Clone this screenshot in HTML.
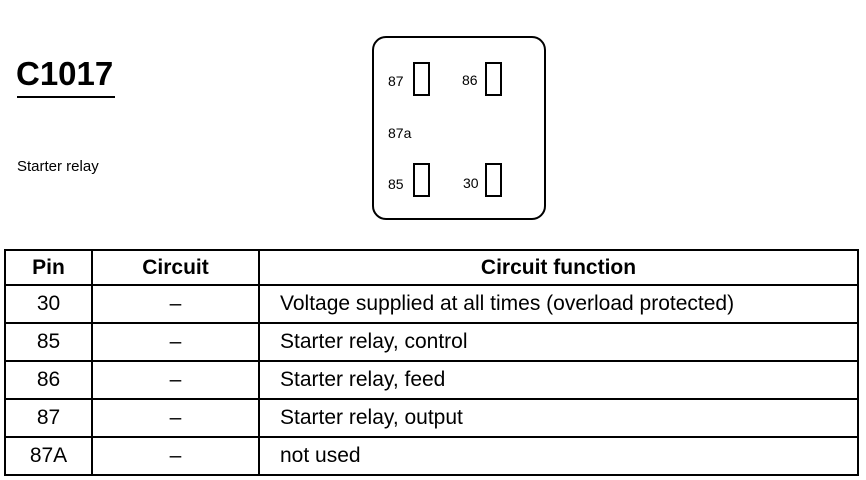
<!DOCTYPE html>
<html><head><style>
body{margin:0;width:866px;height:480px;background:#fff;position:relative;overflow:hidden;font-family:"Liberation Sans",Arial,sans-serif;color:#000}
.a{position:absolute;white-space:nowrap}
.pin{position:absolute;border:2px solid #000;width:13px;height:30px}
.lbl{position:absolute;font-size:14px;line-height:14px}
table{position:absolute;left:4px;top:249px;border-collapse:collapse;width:855px}
td{border:2px solid #000;font-size:21px;height:36px;padding:0}
tr:first-child td{font-weight:bold;height:33px}
td.c{text-align:center}
td.l{padding-left:20px}
</style></head><body>
<div class="a" style="left:16px;top:56px;font-size:33px;font-weight:bold;line-height:36px">C1017</div>
<div class="a" style="left:17px;top:96px;width:98px;height:2px;background:#000"></div>
<div class="a" style="left:17px;top:158px;font-size:15px">Starter relay</div>
<div class="a" style="left:372px;top:36px;width:170px;height:180px;border:2px solid #000;border-radius:14px"></div>
<div class="pin" style="left:413px;top:62px"></div>
<div class="pin" style="left:485px;top:62px"></div>
<div class="pin" style="left:413px;top:163px"></div>
<div class="pin" style="left:485px;top:163px"></div>
<div class="lbl" style="left:388px;top:74px">87</div>
<div class="lbl" style="left:462px;top:73px">86</div>
<div class="lbl" style="left:388px;top:126px">87a</div>
<div class="lbl" style="left:388px;top:177px">85</div>
<div class="lbl" style="left:463px;top:176px">30</div>
<table>
<tr><td class="c" style="width:85px">Pin</td><td class="c" style="width:165px">Circuit</td><td class="c">Circuit function</td></tr>
<tr><td class="c">30</td><td class="c">–</td><td class="l">Voltage supplied at all times (overload protected)</td></tr>
<tr><td class="c">85</td><td class="c">–</td><td class="l">Starter relay, control</td></tr>
<tr><td class="c">86</td><td class="c">–</td><td class="l">Starter relay, feed</td></tr>
<tr><td class="c">87</td><td class="c">–</td><td class="l">Starter relay, output</td></tr>
<tr><td class="c">87A</td><td class="c">–</td><td class="l">not used</td></tr>
</table>
</body></html>
